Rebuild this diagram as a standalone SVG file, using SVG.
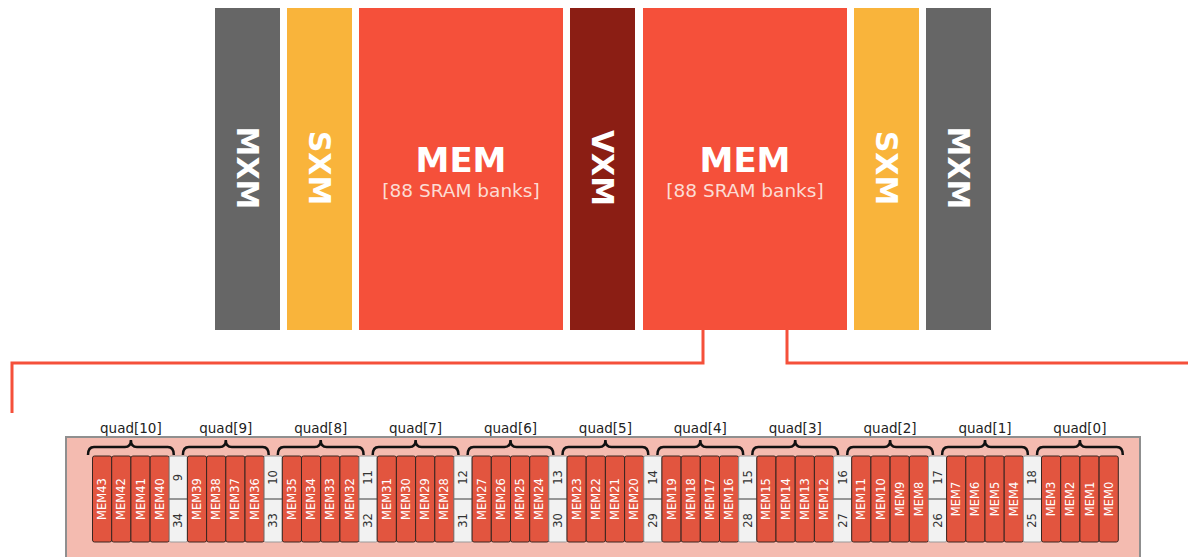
<svg xmlns="http://www.w3.org/2000/svg" width="1188" height="557" viewBox="0 0 1188 557">
<style>
.blk-t{font-family:"DejaVu Sans","Liberation Sans",sans-serif;font-weight:bold;fill:#fff;font-size:30px;text-anchor:middle;dominant-baseline:central}
.mem-t{font-family:"DejaVu Sans","Liberation Sans",sans-serif;font-weight:bold;fill:#fff;font-size:34px;text-anchor:middle}
.mem-s{font-family:"DejaVu Sans","Liberation Sans",sans-serif;fill:#fcdcd4;font-size:18.5px;text-anchor:middle}
.cell{fill:#e2553f;stroke:#3a2620;stroke-width:1}
.wc{fill:#f2f2f2;stroke:#9a9a9a;stroke-width:1}
.ct{font-family:"DejaVu Sans","Liberation Sans",sans-serif;fill:#fff;font-size:11.5px;text-anchor:middle;dominant-baseline:central}
.nt{font-family:"DejaVu Sans","Liberation Sans",sans-serif;fill:#333;font-size:11.5px;text-anchor:middle;dominant-baseline:central}
.ql{font-family:"DejaVu Sans","Liberation Sans",sans-serif;fill:#222;font-size:13.5px;text-anchor:middle}
.br{fill:none;stroke:#111;stroke-width:2.5}
.conn{fill:none;stroke:#f5503a;stroke-width:3}
</style>
<defs>
<path id="brace" class="br" d="M-4.5,455 q0,-8 6,-8 H32.4 q6,0 6,-7 q0,7 6,7 H75.3 q6,0 6,8"/>
<g id="cells">
<rect class="cell" x="0" y="456" width="19.2" height="86" rx="2"/>
<rect class="cell" x="19.2" y="456" width="19.2" height="86" rx="2"/>
<rect class="cell" x="38.4" y="456" width="19.2" height="86" rx="2"/>
<rect class="cell" x="57.6" y="456" width="19.2" height="86" rx="2"/>
</g>
<g id="white">
<rect class="wc" x="0" y="456" width="18.1" height="86" rx="1.5"/>
<line x1="-1" y1="499" x2="19.1" y2="499" stroke="#777" stroke-width="1.5"/>
</g>
</defs>

<g id="connectors">
<path class="conn" d="M703,330 V363 H12 V413"/>
<path class="conn" d="M787,330 V363 H1188"/>
</g>

<g id="mxm-left"><rect x="215" y="8" width="65" height="322" fill="#666666"/><text class="blk-t" transform="translate(247.5,168) rotate(90)">MXM</text></g>
<g id="sxm-left"><rect x="287" y="8" width="65" height="322" fill="#f9b43b"/><text class="blk-t" transform="translate(319.5,168) rotate(90)">SXM</text></g>
<g id="mem-left"><rect x="359" y="8" width="204" height="322" fill="#f5503a"/><text class="mem-t" x="461" y="172">MEM</text><text class="mem-s" x="461" y="197">[88 SRAM banks]</text></g>
<g id="vxm"><rect x="570" y="8" width="65" height="322" fill="#8b1e14"/><text class="blk-t" transform="translate(602.5,168) rotate(90)">VXM</text></g>
<g id="mem-right"><rect x="643" y="8" width="204" height="322" fill="#f5503a"/><text class="mem-t" x="745" y="172">MEM</text><text class="mem-s" x="745" y="197">[88 SRAM banks]</text></g>
<g id="sxm-right"><rect x="854" y="8" width="65" height="322" fill="#f9b43b"/><text class="blk-t" transform="translate(886.5,168) rotate(90)">SXM</text></g>
<g id="mxm-right"><rect x="926" y="8" width="65" height="322" fill="#666666"/><text class="blk-t" transform="translate(958.5,168) rotate(90)">MXM</text></g>

<g id="mem-detail">
<rect x="66" y="437" width="1074" height="135" fill="#f4bbb0" stroke="#8f8f8f" stroke-width="2"/>
</g>

<g id="quad10" transform="translate(92.5,0)">
<use href="#cells"/><use href="#brace"/><text class="ql" x="38.4" y="433">quad[10]</text>
<text class="ct" transform="translate(9.6,499) rotate(-90)">MEM43</text><text class="ct" transform="translate(28.8,499) rotate(-90)">MEM42</text><text class="ct" transform="translate(48,499) rotate(-90)">MEM41</text><text class="ct" transform="translate(67.2,499) rotate(-90)">MEM40</text>
<g transform="translate(76.8,0)"><use href="#white"/><text class="nt" transform="translate(9,477.5) rotate(-90)">9</text><text class="nt" transform="translate(9,520.5) rotate(-90)">34</text></g>
</g>
<g id="quad9" transform="translate(187.4,0)">
<use href="#cells"/><use href="#brace"/><text class="ql" x="38.4" y="433">quad[9]</text>
<text class="ct" transform="translate(9.6,499) rotate(-90)">MEM39</text><text class="ct" transform="translate(28.8,499) rotate(-90)">MEM38</text><text class="ct" transform="translate(48,499) rotate(-90)">MEM37</text><text class="ct" transform="translate(67.2,499) rotate(-90)">MEM36</text>
<g transform="translate(76.8,0)"><use href="#white"/><text class="nt" transform="translate(9,477.5) rotate(-90)">10</text><text class="nt" transform="translate(9,520.5) rotate(-90)">33</text></g>
</g>
<g id="quad8" transform="translate(282.3,0)">
<use href="#cells"/><use href="#brace"/><text class="ql" x="38.4" y="433">quad[8]</text>
<text class="ct" transform="translate(9.6,499) rotate(-90)">MEM35</text><text class="ct" transform="translate(28.8,499) rotate(-90)">MEM34</text><text class="ct" transform="translate(48,499) rotate(-90)">MEM33</text><text class="ct" transform="translate(67.2,499) rotate(-90)">MEM32</text>
<g transform="translate(76.8,0)"><use href="#white"/><text class="nt" transform="translate(9,477.5) rotate(-90)">11</text><text class="nt" transform="translate(9,520.5) rotate(-90)">32</text></g>
</g>
<g id="quad7" transform="translate(377.2,0)">
<use href="#cells"/><use href="#brace"/><text class="ql" x="38.4" y="433">quad[7]</text>
<text class="ct" transform="translate(9.6,499) rotate(-90)">MEM31</text><text class="ct" transform="translate(28.8,499) rotate(-90)">MEM30</text><text class="ct" transform="translate(48,499) rotate(-90)">MEM29</text><text class="ct" transform="translate(67.2,499) rotate(-90)">MEM28</text>
<g transform="translate(76.8,0)"><use href="#white"/><text class="nt" transform="translate(9,477.5) rotate(-90)">12</text><text class="nt" transform="translate(9,520.5) rotate(-90)">31</text></g>
</g>
<g id="quad6" transform="translate(472.1,0)">
<use href="#cells"/><use href="#brace"/><text class="ql" x="38.4" y="433">quad[6]</text>
<text class="ct" transform="translate(9.6,499) rotate(-90)">MEM27</text><text class="ct" transform="translate(28.8,499) rotate(-90)">MEM26</text><text class="ct" transform="translate(48,499) rotate(-90)">MEM25</text><text class="ct" transform="translate(67.2,499) rotate(-90)">MEM24</text>
<g transform="translate(76.8,0)"><use href="#white"/><text class="nt" transform="translate(9,477.5) rotate(-90)">13</text><text class="nt" transform="translate(9,520.5) rotate(-90)">30</text></g>
</g>
<g id="quad5" transform="translate(567,0)">
<use href="#cells"/><use href="#brace"/><text class="ql" x="38.4" y="433">quad[5]</text>
<text class="ct" transform="translate(9.6,499) rotate(-90)">MEM23</text><text class="ct" transform="translate(28.8,499) rotate(-90)">MEM22</text><text class="ct" transform="translate(48,499) rotate(-90)">MEM21</text><text class="ct" transform="translate(67.2,499) rotate(-90)">MEM20</text>
<g transform="translate(76.8,0)"><use href="#white"/><text class="nt" transform="translate(9,477.5) rotate(-90)">14</text><text class="nt" transform="translate(9,520.5) rotate(-90)">29</text></g>
</g>
<g id="quad4" transform="translate(661.9,0)">
<use href="#cells"/><use href="#brace"/><text class="ql" x="38.4" y="433">quad[4]</text>
<text class="ct" transform="translate(9.6,499) rotate(-90)">MEM19</text><text class="ct" transform="translate(28.8,499) rotate(-90)">MEM18</text><text class="ct" transform="translate(48,499) rotate(-90)">MEM17</text><text class="ct" transform="translate(67.2,499) rotate(-90)">MEM16</text>
<g transform="translate(76.8,0)"><use href="#white"/><text class="nt" transform="translate(9,477.5) rotate(-90)">15</text><text class="nt" transform="translate(9,520.5) rotate(-90)">28</text></g>
</g>
<g id="quad3" transform="translate(756.8,0)">
<use href="#cells"/><use href="#brace"/><text class="ql" x="38.4" y="433">quad[3]</text>
<text class="ct" transform="translate(9.6,499) rotate(-90)">MEM15</text><text class="ct" transform="translate(28.8,499) rotate(-90)">MEM14</text><text class="ct" transform="translate(48,499) rotate(-90)">MEM13</text><text class="ct" transform="translate(67.2,499) rotate(-90)">MEM12</text>
<g transform="translate(76.8,0)"><use href="#white"/><text class="nt" transform="translate(9,477.5) rotate(-90)">16</text><text class="nt" transform="translate(9,520.5) rotate(-90)">27</text></g>
</g>
<g id="quad2" transform="translate(851.7,0)">
<use href="#cells"/><use href="#brace"/><text class="ql" x="38.4" y="433">quad[2]</text>
<text class="ct" transform="translate(9.6,499) rotate(-90)">MEM11</text><text class="ct" transform="translate(28.8,499) rotate(-90)">MEM10</text><text class="ct" transform="translate(48,499) rotate(-90)">MEM9</text><text class="ct" transform="translate(67.2,499) rotate(-90)">MEM8</text>
<g transform="translate(76.8,0)"><use href="#white"/><text class="nt" transform="translate(9,477.5) rotate(-90)">17</text><text class="nt" transform="translate(9,520.5) rotate(-90)">26</text></g>
</g>
<g id="quad1" transform="translate(946.6,0)">
<use href="#cells"/><use href="#brace"/><text class="ql" x="38.4" y="433">quad[1]</text>
<text class="ct" transform="translate(9.6,499) rotate(-90)">MEM7</text><text class="ct" transform="translate(28.8,499) rotate(-90)">MEM6</text><text class="ct" transform="translate(48,499) rotate(-90)">MEM5</text><text class="ct" transform="translate(67.2,499) rotate(-90)">MEM4</text>
<g transform="translate(76.8,0)"><use href="#white"/><text class="nt" transform="translate(9,477.5) rotate(-90)">18</text><text class="nt" transform="translate(9,520.5) rotate(-90)">25</text></g>
</g>
<g id="quad0" transform="translate(1041.5,0)">
<use href="#cells"/><use href="#brace"/><text class="ql" x="38.4" y="433">quad[0]</text>
<text class="ct" transform="translate(9.6,499) rotate(-90)">MEM3</text><text class="ct" transform="translate(28.8,499) rotate(-90)">MEM2</text><text class="ct" transform="translate(48,499) rotate(-90)">MEM1</text><text class="ct" transform="translate(67.2,499) rotate(-90)">MEM0</text>
</g>
</svg>
